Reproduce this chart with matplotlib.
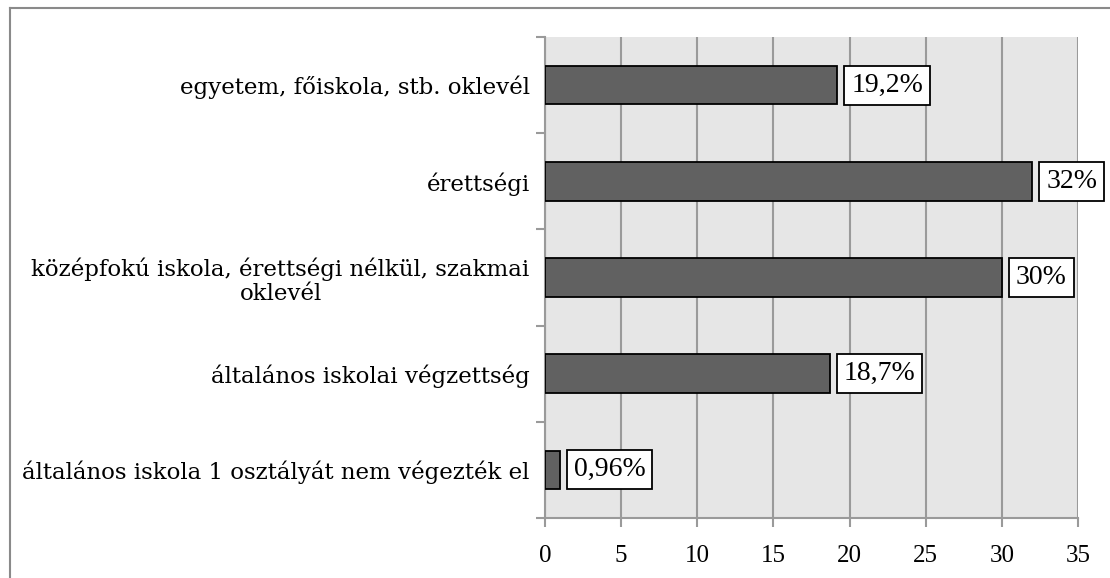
import matplotlib
matplotlib.use("Agg")
import matplotlib.pyplot as plt
from matplotlib.lines import Line2D
import numpy as np

# adatok (alulról felfelé)
categories = [
    "általános iskola 1 osztályát nem végezték el",
    "általános iskolai végzettség",
    "középfokú iskola, érettségi nélkül, szakmai\noklevél",
    "érettségi",
    "egyetem, főiskola, stb. oklevél",
]
values = [0.96, 18.7, 30, 32, 19.2]
value_labels = ["0,96%", "18,7%", "30%", "32%", "19,2%"]
xticks = [0, 5, 10, 15, 20, 25, 30, 35]

plt.rcParams['font.family'] = ['Liberation Serif', 'DejaVu Serif']

fig = plt.figure(figsize=(11.1, 5.78), dpi=100)
ax = fig.add_axes([545 / 1110, 1 - 518 / 578, (1078 - 545) / 1110, (518 - 37) / 578])

grid_col = '#9a9a9a'
ax.set_facecolor('#e6e6e6')
ypos = np.arange(len(categories))
ax.barh(ypos, values, height=0.4, color='#616161', edgecolor='black', linewidth=1.3, zorder=3)

for y, v, lab in zip(ypos, values, value_labels):
    ax.annotate(lab, (v, y), xytext=(10, 0), textcoords='offset points',
                ha='left', va='center', fontsize=20, zorder=5, annotation_clip=False,
                bbox=dict(boxstyle='square,pad=0.25', fc='white', ec='black', lw=1.3))

ax.set_xlim(0, 35)
ax.set_ylim(-0.5, len(categories) - 0.5)
ax.set_xticks(xticks)
ax.set_xticklabels([str(t) for t in xticks], fontsize=18)
ax.set_yticks(ypos)
ax.set_yticklabels(categories, fontsize=16.5, family='DejaVu Serif',
                   multialignment='center', linespacing=1.15)
ax.set_yticks(np.arange(-0.5, len(categories)), minor=True)

ax.xaxis.grid(True, color=grid_col, linewidth=1.5, zorder=0)
ax.set_axisbelow(True)
ax.tick_params(axis='y', which='major', length=0, pad=11)
ax.tick_params(axis='y', which='minor', length=6.5, width=1.5, color=grid_col)
ax.tick_params(axis='x', length=6.5, width=1.5, color=grid_col, pad=13)

for s in ['top', 'right']:
    ax.spines[s].set_visible(False)
for s in ['left', 'bottom']:
    ax.spines[s].set_color(grid_col)
    ax.spines[s].set_linewidth(1.5)

# külső keret
fig.add_artist(Line2D([9.5 / 1110, 9.5 / 1110], [0, 1 - 7.5 / 578], color='#8a8a8a', lw=1.5))
fig.add_artist(Line2D([9.5 / 1110, 1], [1 - 7.5 / 578, 1 - 7.5 / 578], color='#8a8a8a', lw=1.5))

fig.savefig('out.png', dpi=100)
